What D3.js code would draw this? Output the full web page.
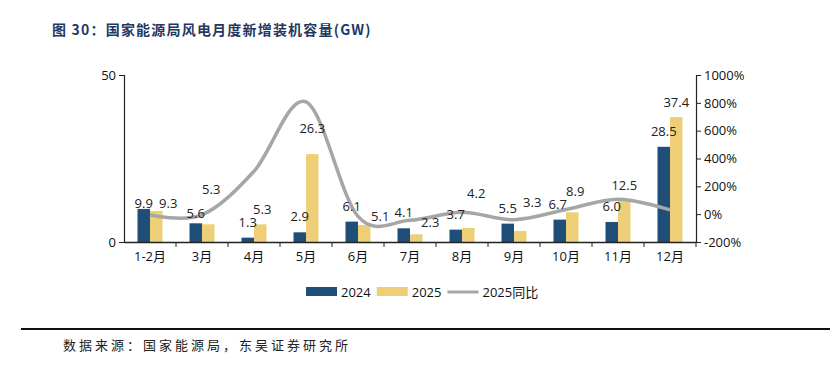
<!DOCTYPE html>
<html>
<head>
<meta charset="utf-8">
<script src="https://cdn.jsdelivr.net/npm/d3@7"></script>
<style>
  body { margin: 0; background: #fff; }
  text { font-family: "Open Sans", "Noto Sans CJK SC", sans-serif; }
</style>
</head>
<body>
<svg id="chart" width="840" height="370"></svg>
<script>
var months = ["1-2月", "3月", "4月", "5月", "6月", "7月", "8月", "9月", "10月", "11月", "12月"]
var cap2024 = [9.9, 5.6, 1.3, 2.9, 6.1, 4.1, 3.7, 5.5, 6.7, 6.0, 28.5]
var cap2025 = [9.3, 5.3, 5.3, 26.3, 5.1, 2.3, 4.2, 3.3, 8.9, 12.5, 37.4]
var yoy2025 = [-6, -5, 308, 807, -16, -44, 14, -40, 33, 108, 31] // %
var leftTicks = [0, 50]
var rightTicks = [-200, 0, 200, 400, 600, 800, 1000]

// label drags as in the original excel chart (px, [dx, dy])
var nudge2024 = [[0, 10], [0, 6], [0, 0], [0, 0], [0, 0], [0, 0], [0, 0], [0, 0], [-2, 0], [0, 0], [0, 0]]
var nudge2025 = [[12, 7], [3, -20], [2, 0], [0, -11], [16, 6], [14, 3], [8, -20], [12, -14], [3, -6], [0, 0], [0, 0]]

var blue = "#1f4e79", yellow = "#eecf77", grey = "#a6a6a6"
var svg = d3.select("#chart")
var m = {left: 124, right: 144, top: 75, bottom: 128}
var W = 840 - m.left - m.right
var H = 370 - m.top - m.bottom

svg.append("text").attr("x", 52).attr("y", 35)
  .style("font-family", "'Noto Sans CJK SC', sans-serif")
  .style("font-weight", "bold").style("font-size", "14px")
  .style("letter-spacing", "1.2px")
  .attr("fill", "#1f3864")
  .text("图 30：国家能源局风电月度新增装机容量(GW)")

var g = svg.append("g").attr("transform", "translate(" + m.left + "," + m.top + ")")

var x = d3.scaleBand().domain(months).range([0, W])
var xs = d3.scaleBand().domain(["2024", "2025"]).range([x.bandwidth() / 2 - 12.5, x.bandwidth() / 2 + 12.5])
var y = d3.scaleLinear().domain([0, 50]).range([H, 0])
var y2 = d3.scaleLinear().domain([-200, 1000]).range([H, 0])

// bars
var series = [{k: "2024", v: cap2024, c: blue}, {k: "2025", v: cap2025, c: yellow}]
series.forEach(function (s) {
  g.selectAll(".bar" + s.k).data(s.v).enter().append("rect")
    .attr("x", function (d, i) { return x(months[i]) + xs(s.k) })
    .attr("width", xs.bandwidth())
    .attr("y", function (d) { return y(d) })
    .attr("height", function (d) { return H - y(d) })
    .attr("fill", s.c)
})

// yoy line
var line = d3.line()
  .x(function (d, i) { return x(months[i]) + x.bandwidth() / 2 })
  .y(function (d) { return y2(d) })
  .curve(d3.curveCatmullRom.alpha(0))
g.append("path").datum(yoy2025).attr("d", line)
  .attr("fill", "none").attr("stroke", grey).attr("stroke-width", 3.5)

// labels
g.selectAll(".lab24").data(cap2024).enter().append("text")
  .attr("x", function (d, i) { return x(months[i]) + xs("2024") + xs.bandwidth() / 2 + nudge2024[i][0] })
  .attr("y", function (d, i) { return y(d) - 11 + nudge2024[i][1] })
  .attr("text-anchor", "middle").style("font-size", "13px").attr("fill", "#222")
  .text(function (d) { return d.toFixed(1) })
g.selectAll(".lab25").data(cap2025).enter().append("text")
  .attr("x", function (d, i) { return x(months[i]) + xs("2025") + xs.bandwidth() / 2 + nudge2025[i][0] })
  .attr("y", function (d, i) { return y(d) - 10 + nudge2025[i][1] })
  .attr("text-anchor", "middle").style("font-size", "13px").attr("fill", "#222")
  .text(function (d) { return d.toFixed(1) })

// axes
var axisL = g.append("g").call(d3.axisLeft(y).tickValues(leftTicks).tickSize(5).tickPadding(3))
var axisR = g.append("g").attr("transform", "translate(" + W + ",0)")
  .call(d3.axisRight(y2).tickValues(rightTicks).tickSize(5).tickPadding(3).tickFormat(function (d) { return d + "%" }))
var axisB = g.append("g").attr("transform", "translate(0," + H + ")")
  .call(d3.axisBottom(x).tickSize(0).tickPadding(10))
axisB.selectAll(".tick").append("line")
  .attr("x1", x.bandwidth() / 2).attr("x2", x.bandwidth() / 2).attr("y1", 0).attr("y2", 5)
  .attr("stroke", "#222")
;[axisL, axisR, axisB].forEach(function (a) {
  a.select(".domain").attr("stroke", "#222").attr("stroke-width", 1.2)
  a.selectAll("line").attr("stroke", "#222")
  a.selectAll("text").style("font-size", "13px").attr("fill", "#111")
    .style("font-family", "'Open Sans', 'Noto Sans CJK SC', sans-serif")
})
axisB.select(".domain").attr("stroke-width", 1.5)

// legend
var lg = svg.append("g").attr("transform", "translate(306,292)")
var items = [{t: "2024", c: blue, type: "rect"}, {t: "2025", c: yellow, type: "rect"}, {t: "2025同比", c: grey, type: "line"}]
var lx = 0
items.forEach(function (it) {
  if (it.type == "rect") {
    lg.append("rect").attr("x", lx).attr("y", -5).attr("width", 31).attr("height", 9).attr("fill", it.c)
  } else {
    lg.append("line").attr("x1", lx).attr("x2", lx + 31).attr("y1", 0).attr("y2", 0)
      .attr("stroke", it.c).attr("stroke-width", 3)
  }
  var t = lg.append("text").attr("x", lx + 35).attr("y", 5).style("font-size", "13px").attr("fill", "#111").text(it.t)
  lx += 35 + t.node().getComputedTextLength() + 6
})

// footer
svg.append("line").attr("x1", 21).attr("x2", 830).attr("y1", 329).attr("y2", 329)
  .attr("stroke", "#111").attr("stroke-width", 2)
svg.append("text").attr("x", 63).attr("y", 350)
  .style("font-family", "'Noto Sans CJK SC', sans-serif")
  .style("font-size", "13px").style("letter-spacing", "3px").attr("fill", "#222")
  .text("数据来源：国家能源局，东吴证券研究所")
</script>
</body>
</html>
